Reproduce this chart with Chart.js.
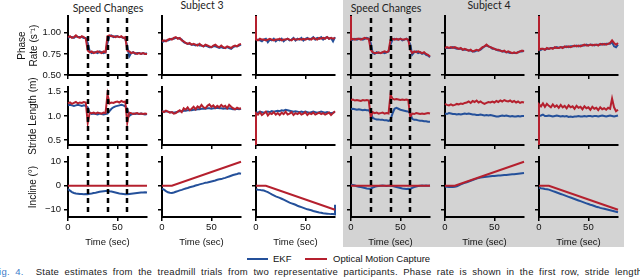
<!DOCTYPE html>
<html lang="en">
<head>
<meta charset="UTF-8">
<title>State estimates from the treadmill trials</title>
<script src="https://cdn.jsdelivr.net/npm/chart.js@4.4.1/dist/chart.umd.min.js"></script>
<style>
  body { margin:0; background:#fff; }
  #fig { position:relative; width:640px; height:278px; overflow:hidden; font-family:"Liberation Sans", Arial, sans-serif; color:#111; }
  .shade { position:absolute; left:343px; top:0; width:281px; height:247px; background:#d3d3d3; }
  .panel { position:absolute; }
  .col-title { position:absolute; font-family:Lato, "Open Sans", sans-serif; font-size:10.5px; color:#222; transform:translate(-50%,-50%); white-space:nowrap; }
  .key { position:absolute; top:253px; font-size:9.5px; line-height:12px; white-space:nowrap; }
  .key-line { position:absolute; top:258px; height:2px; }
  .caption { position:absolute; left:-7px; top:266px; font-size:9.5px; line-height:12px; white-space:nowrap; word-spacing:2.5px; letter-spacing:0.25px; color:#222; }
  .caption b { font-weight:normal; color:#3d7cc9; margin-right:12px; }
</style>
</head>
<body>
<div id="fig">
  <div class="shade"></div>
  <div class="col-title" style="left:108px; top:8px;">Speed Changes</div>
  <div class="col-title" style="left:202px; top:5px;">Subject 3</div>
  <div class="col-title" style="left:386px; top:8px;">Speed Changes</div>
  <div class="col-title" style="left:489px; top:5px;">Subject 4</div>

  <div class="key-line" style="left:247px; width:21px; background:#24509a;"></div>
  <div class="key" style="left:273px;">EKF</div>
  <div class="key-line" style="left:305px; width:22px; background:#b5202e;"></div>
  <div class="key" style="left:333px;">Optical Motion Capture</div>

  <div class="caption"><b>Fig. 4.</b>State estimates from the treadmill trials from two representative participants. Phase rate is shown in the first row, stride length</div>
</div>

<script>
// time base (s), sampled every 2 s
const time = [0,2,4,6,8,10,12,14,16,18,20,22,24,26,28,30,32,34,36,38,40,42,44,46,48,50,52,54,56,58,60,62,64,66,68,70,72,74,76,78,80];
const inclineTime = [0, 10, 80];
const speedChangeTimes = [20, 40, 60];
const timeTicks = [0, 50];
const rateTicks = [0.5, 0.75, 1.0];
const strideTicks = [0.5, 1.0, 1.5];
const inclineTicks = [-10, 0, 10];

// ---- phase rate (1/s)
const s3SpeedRateMocap = [0.95,0.96,0.94,0.95,0.97,0.95,0.94,0.96,0.95,0.93,
  0.79,0.77,0.78,0.76,0.77,0.78,0.77,0.76,0.78,0.77,
  0.96,0.97,0.96,0.96,0.95,0.96,0.95,0.96,0.94,0.95,
  0.79,0.78,0.76,0.77,0.76,0.75,0.76,0.75,0.76,0.75,0.75];
const s3SpeedRateEkf = [0.94,0.95,0.95,0.94,0.96,0.95,0.95,0.95,0.94,0.94,
  0.88,0.78,0.76,0.77,0.77,0.76,0.78,0.77,0.76,0.77,
  0.88,0.96,0.97,0.95,0.96,0.96,0.95,0.95,0.94,0.93,
  0.84,0.72,0.76,0.77,0.75,0.76,0.76,0.75,0.76,0.75,0.76];
const s3UpRateMocap = [0.90,0.91,0.90,0.92,0.93,0.92,0.94,0.95,0.93,0.94,
  0.91,0.90,0.88,0.87,0.88,0.86,0.87,0.86,0.85,0.87,
  0.85,0.84,0.86,0.85,0.84,0.83,0.85,0.86,0.84,0.83,
  0.85,0.83,0.82,0.84,0.83,0.82,0.84,0.85,0.84,0.86,0.87];
const s3UpRateEkf = [0.89,0.90,0.91,0.91,0.92,0.93,0.93,0.94,0.94,0.93,
  0.92,0.89,0.88,0.87,0.87,0.86,0.86,0.85,0.86,0.85,
  0.85,0.84,0.85,0.84,0.83,0.83,0.84,0.84,0.83,0.82,
  0.83,0.82,0.82,0.83,0.82,0.81,0.83,0.84,0.84,0.85,0.86];
const s3DownRateMocapStart = 1.2;
const s3DownRateMocap = [0.92,0.91,0.93,0.92,0.92,0.91,0.92,0.93,0.92,0.91,
  0.92,0.92,0.93,0.91,0.92,0.92,0.93,0.92,0.91,0.93,
  0.92,0.92,0.93,0.92,0.93,0.92,0.93,0.93,0.92,0.94,
  0.93,0.92,0.94,0.93,0.94,0.93,0.95,0.93,0.94,0.93,0.94];
const s3DownRateEkf = [0.91,0.92,0.91,0.90,0.92,0.93,0.89,0.92,0.91,0.93,
  0.90,0.92,0.91,0.93,0.90,0.92,0.93,0.91,0.92,0.94,
  0.91,0.93,0.92,0.94,0.91,0.93,0.94,0.92,0.93,0.95,
  0.92,0.94,0.93,0.95,0.92,0.94,0.95,0.93,0.94,0.90,0.95];
const s4SpeedRateMocapStart = 1.2;
const s4SpeedRateMocap = [0.92,0.93,0.92,0.93,0.93,0.92,0.93,0.94,0.93,0.93,
  0.80,0.77,0.76,0.76,0.77,0.76,0.77,0.78,0.77,0.78,
  0.92,0.93,0.92,0.93,0.92,0.93,0.92,0.92,0.93,0.92,
  0.80,0.76,0.78,0.77,0.78,0.77,0.76,0.77,0.75,0.74,0.72];
const s4SpeedRateEkf = [0.91,0.92,0.93,0.92,0.93,0.93,0.92,0.93,0.94,0.93,
  0.88,0.76,0.75,0.77,0.76,0.76,0.77,0.76,0.77,0.78,
  0.86,0.92,0.93,0.92,0.92,0.93,0.91,0.92,0.93,0.91,
  0.86,0.74,0.77,0.78,0.76,0.77,0.75,0.76,0.74,0.73,0.71];
const s4UpRateMocap = [0.82,0.83,0.82,0.83,0.82,0.83,0.82,0.81,0.82,0.80,
  0.81,0.80,0.79,0.80,0.78,0.79,0.80,0.79,0.81,0.83,
  0.84,0.86,0.84,0.83,0.82,0.81,0.80,0.80,0.79,0.78,
  0.79,0.77,0.78,0.77,0.76,0.77,0.76,0.77,0.78,0.79,0.78];
const s4UpRateEkf = [0.82,0.82,0.82,0.82,0.83,0.82,0.81,0.81,0.81,0.80,
  0.80,0.80,0.79,0.79,0.78,0.78,0.79,0.79,0.80,0.82,
  0.84,0.85,0.84,0.83,0.81,0.81,0.80,0.79,0.79,0.78,
  0.78,0.77,0.77,0.76,0.76,0.76,0.76,0.77,0.78,0.78,0.79];
const s4DownRateMocapStart = 1.2;
const s4DownRateMocap = [0.80,0.81,0.81,0.80,0.82,0.81,0.82,0.81,0.83,0.82,
  0.82,0.83,0.82,0.84,0.83,0.84,0.83,0.84,0.85,0.84,
  0.85,0.84,0.85,0.86,0.85,0.85,0.86,0.85,0.86,0.86,
  0.85,0.87,0.86,0.87,0.86,0.87,0.88,0.91,0.88,0.86,0.88];
const s4DownRateEkf = [0.79,0.80,0.81,0.80,0.81,0.81,0.82,0.82,0.82,0.83,
  0.82,0.83,0.83,0.83,0.84,0.83,0.84,0.84,0.84,0.85,
  0.84,0.85,0.85,0.85,0.86,0.85,0.86,0.86,0.85,0.86,
  0.86,0.86,0.87,0.86,0.87,0.87,0.87,0.89,0.84,0.83,0.86];

// ---- stride length (m)
const s3SpeedStrideMocap = [1.26,1.28,1.25,1.27,1.29,1.26,1.28,1.27,1.29,1.28,
  0.86,1.07,1.06,1.07,1.05,1.07,1.06,1.05,1.07,1.06,
  1.45,1.26,1.28,1.27,1.29,1.30,1.28,1.31,1.29,1.30,
  0.86,1.07,1.06,1.04,1.05,1.06,1.04,1.05,1.04,1.05,1.04];
const s3SpeedStrideEkf = [1.22,1.23,1.22,1.21,1.22,1.23,1.22,1.21,1.22,1.21,
  1.18,1.06,1.04,1.05,1.04,1.03,1.05,1.04,1.03,1.04,
  1.05,1.10,1.15,1.18,1.20,1.21,1.22,1.23,1.22,1.20,
  1.15,1.00,1.03,1.05,1.04,1.05,1.04,1.05,1.04,1.03,1.04];
const s3UpStrideMocap = [1.10,1.08,1.11,1.09,1.07,1.08,1.05,1.06,1.09,1.12,
  1.08,1.16,1.13,1.18,1.12,1.15,1.19,1.14,1.20,1.17,
  1.23,1.18,1.16,1.21,1.24,1.19,1.22,1.17,1.21,1.18,
  1.23,1.19,1.21,1.16,1.23,1.19,1.16,1.14,1.17,1.15,1.16];
const s3UpStrideEkf = [1.10,1.09,1.10,1.09,1.08,1.08,1.07,1.08,1.09,1.10,
  1.10,1.11,1.11,1.12,1.12,1.12,1.13,1.13,1.14,1.14,
  1.15,1.15,1.15,1.16,1.16,1.15,1.16,1.16,1.17,1.16,
  1.16,1.15,1.16,1.15,1.16,1.15,1.14,1.14,1.15,1.14,1.15];
const s3DownStrideMocapStart = 0.4;
const s3DownStrideMocap = [1.06,1.03,1.08,1.02,1.05,1.09,1.01,1.06,1.04,1.08,
  1.03,1.06,1.02,1.07,1.04,1.09,1.03,1.05,1.08,1.02,
  1.06,1.04,1.07,1.03,1.05,1.08,1.02,1.06,1.04,1.07,
  1.03,1.05,1.07,1.04,1.06,1.03,1.05,1.07,1.02,1.06,1.10];
const s3DownStrideEkf = [1.08,1.07,1.09,1.08,1.07,1.08,1.09,1.08,1.10,1.09,
  1.10,1.11,1.10,1.12,1.11,1.13,1.12,1.11,1.10,1.09,
  1.10,1.09,1.08,1.09,1.08,1.09,1.08,1.07,1.08,1.09,
  1.08,1.07,1.08,1.09,1.08,1.07,1.08,1.07,1.06,1.07,1.08];
const s4SpeedStrideMocap = [1.33,1.34,1.32,1.33,1.32,1.31,1.33,1.32,1.33,1.32,
  0.98,1.08,1.06,1.07,1.05,1.06,1.07,1.05,1.06,1.05,
  1.44,1.36,1.34,1.35,1.34,1.33,1.34,1.33,1.34,1.33,
  0.98,1.05,1.04,1.06,1.05,1.04,1.05,1.04,1.05,1.06,1.05];
const s4SpeedStrideEkf = [1.14,1.15,1.14,1.13,1.14,1.13,1.12,1.13,1.12,1.12,
  1.06,0.96,0.94,0.93,0.93,0.92,0.92,0.91,0.91,0.90,
  0.92,1.05,1.15,1.17,1.15,1.13,1.12,1.11,1.10,1.09,
  1.05,0.94,0.92,0.92,0.91,0.90,0.90,0.89,0.89,0.88,0.88];
const s4UpStrideMocap = [1.25,1.23,1.22,1.24,1.22,1.23,1.25,1.24,1.26,1.25,
  1.27,1.28,1.30,1.27,1.31,1.29,1.32,1.28,1.30,1.27,
  1.25,1.27,1.29,1.28,1.30,1.28,1.31,1.29,1.32,1.30,
  1.33,1.31,1.30,1.32,1.29,1.31,1.28,1.30,1.27,1.29,1.28];
const s4UpStrideEkf = [1.05,1.04,1.06,1.05,1.04,1.04,1.03,1.04,1.03,1.04,
  1.05,1.04,1.05,1.04,1.03,1.03,1.02,1.02,1.03,1.02,
  1.01,1.02,1.01,1.02,1.01,1.00,0.99,0.99,1.00,1.01,
  1.00,1.01,1.00,0.99,1.00,0.99,0.99,1.00,0.99,1.00,1.00];
const s4DownStrideMocapStart = 0.4;
const s4DownStrideMocap = [1.24,1.20,1.26,1.19,1.25,1.21,1.18,1.24,1.19,1.22,
  1.17,1.23,1.18,1.21,1.16,1.22,1.18,1.20,1.15,1.21,
  1.17,1.19,1.14,1.20,1.16,1.18,1.13,1.19,1.15,1.17,
  1.12,1.18,1.14,1.16,1.13,1.17,1.15,1.36,1.18,1.10,1.13];
const s4DownStrideEkf = [1.00,1.01,1.03,1.00,1.00,1.01,1.00,0.99,1.00,1.01,
  1.00,0.99,1.00,0.99,1.00,0.98,0.99,0.98,0.99,0.99,
  1.00,0.99,0.99,1.00,0.99,1.00,1.00,0.99,1.00,1.00,
  0.99,1.00,1.01,1.00,0.99,1.00,1.01,1.00,0.99,1.00,1.01];

// ---- incline (deg)
const flatInclineMocap = [0, 0, 0];
const upInclineMocap = [0, 0, 10];
const downInclineMocap = [0, 0, -10];
const s3SpeedInclineEkf = [-1.4,-2.0,-2.6,-3.0,-3.2,-3.3,-3.4,-3.4,-3.5,-3.4,
  -3.5,-3.3,-3.2,-3.0,-2.9,-2.7,-2.5,-2.4,-2.3,-2.2,
  -2.1,-2.3,-2.4,-2.6,-2.8,-3.0,-3.2,-3.3,-3.4,-3.5,
  -3.5,-3.4,-3.3,-3.2,-3.1,-3.0,-2.9,-2.8,-2.8,-2.7,-2.8];
const s3UpInclineEkf = [-1.2,-1.6,-2.2,-2.7,-2.9,-3.0,-2.8,-2.5,-2.2,-1.9,
  -1.7,-1.4,-1.1,-0.9,-0.6,-0.4,-0.2,0.1,0.3,0.6,
  0.8,1.0,1.3,1.4,1.6,1.8,2.0,2.2,2.5,2.7,
  2.8,3.1,3.3,3.6,3.9,4.2,4.5,4.7,4.9,5.2,5.0];
const s3DownInclineEkf = [-1.4,-1.6,-1.7,-1.9,-2.0,-2.3,-2.6,-3.1,-3.6,-4.0,
  -4.4,-4.7,-5.0,-5.4,-5.8,-6.2,-6.6,-7.0,-7.3,-7.6,
  -7.9,-8.3,-8.6,-8.9,-9.2,-9.5,-9.8,-10.0,-10.2,-10.5,
  -10.7,-10.9,-11.1,-11.2,-11.4,-11.5,-11.6,-11.7,-11.8,-11.8,-11.9];
const s3DownInclineEkfEnd = -7.9;
const s4SpeedInclineEkf = [0.4,0.3,0.1,-0.2,-0.4,-0.5,-0.7,-0.9,-1.1,-1.2,
  -1.2,-0.8,-0.4,-0.2,-0.1,0.0,0.1,0.0,-0.1,0.0,
  0.1,-0.1,-0.3,-0.5,-0.7,-0.9,-1.1,-1.2,-1.3,-1.2,
  -1.3,-0.9,-0.5,-0.3,-0.1,0.0,0.1,0.0,0.1,0.0,0.1];
const s4UpInclineEkf = [-0.4,-0.4,-0.5,-0.4,-0.5,-0.4,-0.2,0.2,0.6,0.9,
  1.2,1.5,1.8,2.1,2.4,2.7,3.0,3.2,3.4,3.6,
  3.7,3.8,3.9,4.0,4.1,4.1,4.2,4.3,4.3,4.4,
  4.5,4.5,4.6,4.7,4.8,4.8,4.9,5.0,5.1,5.2,5.3];
const s4DownInclineEkf = [-0.8,-1.0,-1.1,-1.3,-1.4,-1.6,-1.9,-2.2,-2.5,-2.8,
  -3.1,-3.4,-3.7,-4.0,-4.3,-4.6,-4.9,-5.2,-5.5,-5.8,
  -6.1,-6.4,-6.7,-7.0,-7.3,-7.6,-7.9,-8.1,-8.4,-8.7,
  -8.9,-9.2,-9.4,-9.6,-9.8,-10.0,-10.2,-10.4,-10.6,-10.8,-11.0];

const BLUE = '#24509a', RED = '#b5202e';
Chart.defaults.font.family = "'Liberation Sans', Arial, sans-serif";
Chart.defaults.font.size = 9.5;
Chart.defaults.color = '#111';

const minus = v => v < 0 ? '\u2212' + Math.abs(v) : String(v);
// band = canvas placement; wide = taller canvas for the first column so the axis title is not cut
const rows = [
  { min:0.5, max:1.2, ticks:rateTicks, fmt:v => v.toFixed(2), title:['Phase', 'Rate (s\u207B\u00B9)'], titlePad:16,
    band:{ top:12, height:69, padTop:4, xHeight:6 } },
  { min:0.4, max:1.6, ticks:strideTicks, fmt:v => v.toFixed(1), title:'Stride Length (m)', titlePad:27,
    band:{ top:81, height:70, padTop:6, xHeight:6 },
    wide:{ top:72, height:88, padTop:15, xHeight:15 } },
  { min:-13, max:12, ticks:inclineTicks, fmt:minus, title:'Incline (\u00B0)', titlePad:27,
    band:{ top:151, height:99, padTop:6, xHeight:33 } }
];
const colAxisX = [68, 162, 256, 351, 445, 539];

const pts = (vals, t) => vals.map((v, i) => ({ x: t[i], y: v }));

const panels = [
  { row:0, col:0, ekf:pts(s3SpeedRateEkf, time), mocap:pts(s3SpeedRateMocap, time), speed:true },
  { row:0, col:1, ekf:pts(s3UpRateEkf, time), mocap:pts(s3UpRateMocap, time) },
  { row:0, col:2, ekf:pts(s3DownRateEkf, time), mocap:[{x:0, y:s3DownRateMocapStart}, ...pts(s3DownRateMocap, time)] },
  { row:0, col:3, ekf:pts(s4SpeedRateEkf, time), mocap:[{x:0, y:s4SpeedRateMocapStart}, ...pts(s4SpeedRateMocap, time)], speed:true },
  { row:0, col:4, ekf:pts(s4UpRateEkf, time), mocap:pts(s4UpRateMocap, time) },
  { row:0, col:5, ekf:pts(s4DownRateEkf, time), mocap:[{x:0, y:s4DownRateMocapStart}, ...pts(s4DownRateMocap, time)] },

  { row:1, col:0, ekf:pts(s3SpeedStrideEkf, time), mocap:pts(s3SpeedStrideMocap, time), speed:true },
  { row:1, col:1, ekf:pts(s3UpStrideEkf, time), mocap:pts(s3UpStrideMocap, time) },
  { row:1, col:2, ekf:pts(s3DownStrideEkf, time), mocap:[{x:0, y:s3DownStrideMocapStart}, ...pts(s3DownStrideMocap, time)] },
  { row:1, col:3, ekf:pts(s4SpeedStrideEkf, time), mocap:pts(s4SpeedStrideMocap, time), speed:true },
  { row:1, col:4, ekf:pts(s4UpStrideEkf, time), mocap:pts(s4UpStrideMocap, time) },
  { row:1, col:5, ekf:pts(s4DownStrideEkf, time), mocap:[{x:0, y:s4DownStrideMocapStart}, ...pts(s4DownStrideMocap, time)] },

  { row:2, col:0, ekf:pts(s3SpeedInclineEkf, time), mocap:pts(flatInclineMocap, inclineTime), speed:true },
  { row:2, col:1, ekf:pts(s3UpInclineEkf, time), mocap:pts(upInclineMocap, inclineTime) },
  { row:2, col:2, ekf:[...pts(s3DownInclineEkf, time), {x:80, y:s3DownInclineEkfEnd}], mocap:pts(downInclineMocap, inclineTime) },
  { row:2, col:3, ekf:pts(s4SpeedInclineEkf, time), mocap:pts(flatInclineMocap, inclineTime), speed:true },
  { row:2, col:4, ekf:pts(s4UpInclineEkf, time), mocap:pts(upInclineMocap, inclineTime) },
  { row:2, col:5, ekf:pts(s4DownInclineEkf, time), mocap:pts(downInclineMocap, inclineTime) }
];

// dashed lines at the speed changes, running through the gaps between rows
const speedDash = {
  id: 'speedDash',
  afterDraw(chart, args, o) {
    if (!o.show) return;
    const { ctx, chartArea, scales: { x } } = chart;
    const y0 = o.row === 0 ? chartArea.top : 0;
    const y1 = o.row === 2 ? chartArea.bottom : chart.height;
    ctx.save();
    ctx.strokeStyle = '#000';
    ctx.lineWidth = 2.5;
    ctx.setLineDash([5, 4]);
    ctx.lineDashOffset = (o.pageTop + y0) % 9;
    speedChangeTimes.forEach(t => {
      const px = Math.round(x.getPixelForValue(t));
      ctx.beginPath();
      ctx.moveTo(px, y0);
      ctx.lineTo(px, y1);
      ctx.stroke();
    });
    ctx.restore();
  }
};

const fig = document.getElementById('fig');
const axisLine = { display:true, color:'#000', width:2 };
const tickMarks = { display:true, drawOnChartArea:false, drawTicks:true, tickLength:4, tickColor:'#000', tickWidth:1.5, lineWidth:1.5 };

panels.forEach(p => {
  const r = rows[p.row];
  const b = (p.col === 0 && r.wide) ? r.wide : r.band;
  const leftW = p.col === 0 ? 68 : 10;
  const w = leftW + 79 + 4;
  const cv = document.createElement('canvas');
  cv.className = 'panel';
  cv.width = w; cv.height = b.height;
  cv.style.width = w + 'px'; cv.style.height = b.height + 'px';
  cv.style.left = (colAxisX[p.col] - leftW) + 'px';
  cv.style.top = b.top + 'px';
  fig.appendChild(cv);

  new Chart(cv, {
    type: 'line',
    data: {
      datasets: [
        { label:'Optical Motion Capture', data:p.mocap, borderColor:RED, borderWidth:2, pointRadius:0, order:0, clip:4 },
        { label:'EKF', data:p.ekf, borderColor:BLUE, borderWidth:2, pointRadius:0, order:1, clip:4 }
      ]
    },
    options: {
      responsive: false,
      animation: false,
      events: [],
      layout: { padding: { top:b.padTop, right:4, left:0, bottom:0 } },
      plugins: {
        legend: { display:false },
        tooltip: { enabled:false },
        speedDash: { show:!!p.speed, row:p.row, pageTop:b.top }
      },
      scales: {
        x: {
          type: 'linear', min:0, max:80,
          afterBuildTicks: s => { s.ticks = timeTicks.map(v => ({ value:v })); },
          afterFit: s => { s.height = b.xHeight; s.paddingLeft = 0; s.paddingRight = 0; },
          border: axisLine,
          grid: tickMarks,
          ticks: { display: p.row === 2, padding:1, maxRotation:0, callback: v => String(v) },
          title: { display: p.row === 2, text:'Time (sec)', padding:{ top:0, bottom:2 } }
        },
        y: {
          min: r.min, max: r.max,
          afterBuildTicks: s => { s.ticks = r.ticks.map(v => ({ value:v })); },
          afterFit: s => { s.width = leftW; s.paddingTop = 0; s.paddingBottom = 0; },
          border: axisLine,
          grid: tickMarks,
          ticks: { display: p.col === 0, padding:3, callback: v => r.fmt(v) },
          title: { display: p.col === 0, text:r.title, font:{ size:10 }, padding:{ top:r.titlePad, bottom:0 } }
        }
      }
    },
    plugins: [speedDash]
  });
});
</script>
</body>
</html>
